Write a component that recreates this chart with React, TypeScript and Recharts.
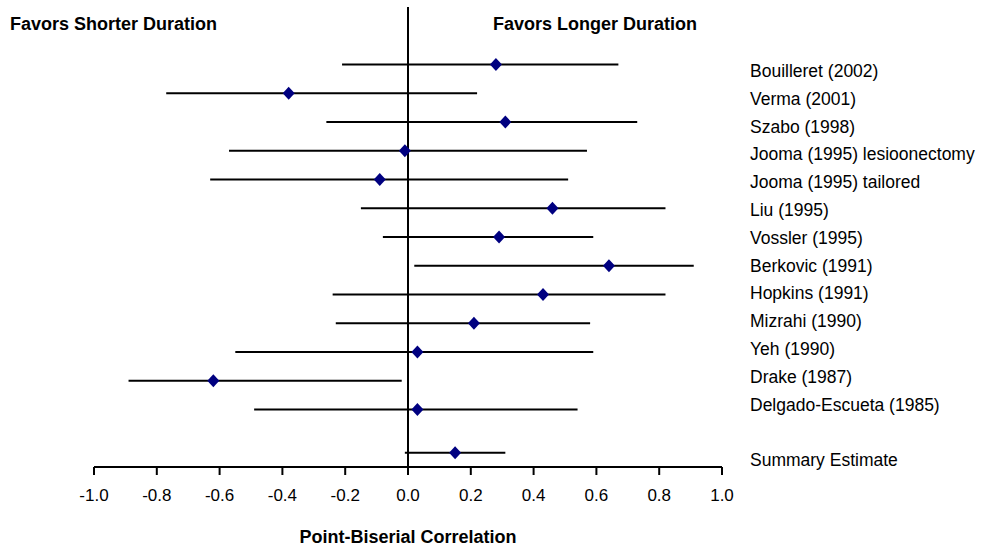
import React from "react";
import {
  ComposedChart,
  Scatter,
  XAxis,
  YAxis,
  ErrorBar,
  ReferenceLine,
} from "recharts";

// study labels, top to bottom; last one is the pooled estimate
const studies = [
  "Bouilleret (2002)",
  "Verma (2001)",
  "Szabo (1998)",
  "Jooma (1995) lesioonectomy",
  "Jooma (1995) tailored",
  "Liu (1995)",
  "Vossler (1995)",
  "Berkovic (1991)",
  "Hopkins (1991)",
  "Mizrahi (1990)",
  "Yeh (1990)",
  "Drake (1987)",
  "Delgado-Escueta (1985)",
  "Summary Estimate",
];

// point-biserial r and its interval
const estimates = [0.28, -0.38, 0.31, -0.01, -0.09, 0.46, 0.29, 0.64, 0.43, 0.21, 0.03, -0.62, 0.03, 0.15];
const lower = [-0.21, -0.77, -0.26, -0.57, -0.63, -0.15, -0.08, 0.02, -0.24, -0.23, -0.55, -0.89, -0.49, -0.01];
const upper = [0.67, 0.22, 0.73, 0.57, 0.51, 0.82, 0.59, 0.91, 0.82, 0.58, 0.59, -0.02, 0.54, 0.31];

const xTicks = [-1, -0.8, -0.6, -0.4, -0.2, 0, 0.2, 0.4, 0.6, 0.8, 1];

const FONT = "'Liberation Sans', Arial, sans-serif";
const last = studies.length - 1;

// summary row sits a bit apart from the studies
const data = studies.map((name, i) => ({
  name,
  r: estimates[i],
  row: i === last ? last + 0.5 : i,
  err: [estimates[i] - lower[i], upper[i] - estimates[i]],
}));

// label column has its own spacing in the original
const labelTicks = studies.map((_, i) => (i === last ? last + 1 : i));
const labelFor = (v: number) => {
  const idx = labelTicks.indexOf(v);
  return idx >= 0 ? studies[idx] : "";
};

const Diamond = (props: any) => {
  const { cx, cy } = props;
  if (cx == null || cy == null) return null;
  return (
    <path
      d={`M${cx},${cy - 6.5}L${cx + 6},${cy}L${cx},${cy + 6.5}L${cx - 6},${cy}Z`}
      fill="#000080"
    />
  );
};

const LabelTick = (props: any) => {
  const { x, y, payload } = props;
  return (
    <text x={x} y={y} dy="0.35em" fontSize={17.5} fontFamily={FONT} fill="#000" textAnchor="start">
      {labelFor(payload.value)}
    </text>
  );
};

const headStyle: React.CSSProperties = {
  position: "absolute",
  top: 14,
  fontFamily: FONT,
  fontWeight: "bold",
  fontSize: 18,
  color: "#000",
  whiteSpace: "nowrap",
};

export default function App() {
  return (
    <div style={{ position: "absolute", left: 0, top: 0, width: 982, height: 552, background: "#fff" }}>
      <div style={{ ...headStyle, left: 10 }}>Favors Shorter Duration</div>
      <div style={{ ...headStyle, left: 493 }}>Favors Longer Duration</div>
      <ComposedChart
        width={982}
        height={552}
        data={data}
        margin={{ top: 7, right: 10, bottom: 5, left: 94 }}
      >
        <XAxis
          type="number"
          dataKey="r"
          domain={[-1, 1]}
          ticks={xTicks}
          allowDataOverflow
          tickFormatter={(v: number) => v.toFixed(1)}
          height={80}
          stroke="#000"
          axisLine={{ stroke: "#000", strokeWidth: 2 }}
          tickLine={{ stroke: "#000", strokeWidth: 2 }}
          tickSize={8}
          tickMargin={14}
          tick={{ fill: "#000", fontSize: 17, fontFamily: FONT }}
          label={{
            value: "Point-Biserial Correlation",
            position: "insideBottom",
            offset: 4,
            fill: "#000",
            fontSize: 18,
            fontWeight: "bold",
            fontFamily: FONT,
          }}
        />
        <YAxis
          yAxisId="main"
          type="number"
          dataKey="row"
          domain={[-2, 14]}
          reversed
          hide
        />
        <YAxis
          yAxisId="labels"
          orientation="right"
          type="number"
          domain={[-2.3, 14.25]}
          ticks={labelTicks}
          reversed
          allowDataOverflow
          interval={0}
          width={250}
          axisLine={false}
          tickLine={false}
          tickSize={0}
          tickMargin={28}
          tick={<LabelTick />}
        />
        <ReferenceLine yAxisId="main" x={0} stroke="#000" strokeWidth={2} />
        <Scatter
          yAxisId="main"
          dataKey="row"
          data={data}
          shape={<Diamond />}
          isAnimationActive={false}
        >
          <ErrorBar
            dataKey="err"
            direction="x"
            width={0}
            stroke="#000"
            strokeWidth={2}
            isAnimationActive={false}
          />
        </Scatter>
      </ComposedChart>
    </div>
  );
}
